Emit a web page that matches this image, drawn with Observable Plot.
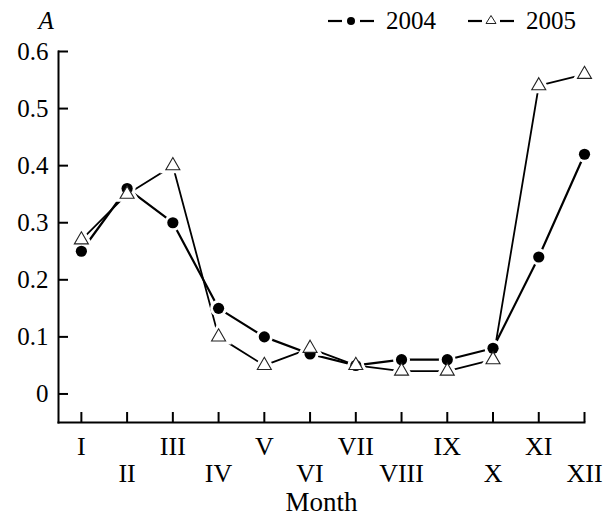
<!DOCTYPE html>
<html>
<head>
<meta charset="utf-8">
<script src="https://cdn.jsdelivr.net/npm/d3@7"></script>
<script src="https://cdn.jsdelivr.net/npm/@observablehq/plot@0.6"></script>
<style>
  body { margin: 0; background: #fff; }
  #wrap { position: relative; width: 610px; height: 516px; font-family: "Liberation Serif", serif; }
  #chart svg text { font-variant: normal; }
  #legend { position: absolute; top: 7px; left: 326px; display: flex; align-items: center; font-size: 25px; color: #000; }
  #legend .item { display: flex; align-items: center; }
  #legend svg { display: block; }
</style>
</head>
<body>
<div id="wrap">
  <div id="chart"></div>
  <div id="legend"></div>
</div>
<script>
// Monthly values of A, one array per year
const months = [1, 2, 3, 4, 5, 6, 7, 8, 9, 10, 11, 12];
const monthLabels = ["I", "II", "III", "IV", "V", "VI", "VII", "VIII", "IX", "X", "XI", "XII"];
const values2004 = [0.25, 0.36, 0.30, 0.15, 0.10, 0.07, 0.05, 0.06, 0.06, 0.08, 0.24, 0.42];
const values2005 = [0.27, 0.35, 0.40, 0.10, 0.05, 0.08, 0.05, 0.04, 0.04, 0.06, 0.54, 0.56];
const yTicks = [0, 0.1, 0.2, 0.3, 0.4, 0.5, 0.6];
const years = ["2004", "2005"];

const rows2004 = months.map((m, i) => ({month: m, value: values2004[i]}));
const rows2005 = months.map((m, i) => ({month: m, value: values2005[i]}));

const font = "Liberation Serif";
const oddMonths = months.filter(m => m % 2 === 1);
const evenMonths = months.filter(m => m % 2 === 0);
const label = m => monthLabels[m - 1];

const chart = Plot.plot({
  width: 610,
  height: 516,
  marginLeft: 58,
  marginRight: 26,
  marginTop: 51,
  marginBottom: 94,
  style: {fontFamily: font, color: "#000", background: "#fff"},
  x: {domain: [0.5, 12], axis: null},
  y: {domain: [-0.05, 0.6], axis: null},
  marks: [
    Plot.frame({anchor: "left", strokeWidth: 2}),
    Plot.frame({anchor: "bottom", strokeWidth: 2}),
    // inward tick marks
    Plot.axisY(yTicks, {tickSize: -10, strokeWidth: 2, tickFormat: () => "", label: null}),
    Plot.axisX(months, {tickSize: -10, strokeWidth: 2, tickFormat: () => "", label: null}),
    // tick labels
    Plot.axisY(yTicks, {tickSize: 0, tickPadding: 10, fontSize: 25, fontFamily: font, tickFormat: d => d === 0 ? "0" : d.toFixed(1), label: null}),
    Plot.axisX(oddMonths, {tickSize: 0, tickPadding: 14, fontSize: 26, fontFamily: font, tickFormat: label, label: null}),
    Plot.axisX(evenMonths, {tickSize: 0, tickPadding: 41, fontSize: 26, fontFamily: font, tickFormat: label, label: null}),
    Plot.text(["Month"], {frameAnchor: "bottom", dy: 69, lineAnchor: "top", fontSize: 27, fontFamily: font}),
    Plot.text(["A"], {frameAnchor: "top-left", dx: -20, dy: -23, lineAnchor: "bottom", fontSize: 25, fontStyle: "italic", fontFamily: font}),
    // series lines
    Plot.line(rows2004, {x: "month", y: "value", stroke: "#000", strokeWidth: 2.2}),
    Plot.line(rows2005, {x: "month", y: "value", stroke: "#000", strokeWidth: 1.8}),
    // white halos leave a small gap between lines and markers
    Plot.dot(rows2004, {x: "month", y: "value", r: 5.5, fill: "#fff", stroke: "#fff", strokeWidth: 6}),
    Plot.dot(rows2005, {x: "month", y: "value", r: 5.2, symbol: "triangle", fill: "#fff", stroke: "#fff", strokeWidth: 7}),
    Plot.dot(rows2004, {x: "month", y: "value", r: 5.6, fill: "#000", stroke: "none"}),
    Plot.dot(rows2005, {x: "month", y: "value", r: 5.2, symbol: "triangle", fill: "#fff", stroke: "#222", strokeWidth: 1.1})
  ]
});
document.getElementById("chart").appendChild(chart);

// Legend: dash – marker – dash, then the year
const legend = document.getElementById("legend");
years.forEach((year, i) => {
  const item = document.createElement("div");
  item.className = "item";
  item.style.marginLeft = i === 0 ? "0px" : "30px";
  const sym = i === 0
    ? `<circle cx="25" cy="12" r="4" fill="#000"/>`
    : `<path d="M25,6.5 L30,14.5 L20,14.5 Z" fill="#fff" stroke="#222" stroke-width="1"/>`;
  item.innerHTML =
    `<svg width="54" height="24"><line x1="2" x2="16" y1="12" y2="12" stroke="#000" stroke-width="2.2"/>${sym}<line x1="34" x2="48" y1="12" y2="12" stroke="#000" stroke-width="2.2"/></svg>` +
    `<span style="margin-left:6px">${year}</span>`;
  legend.appendChild(item);
});
</script>
</body>
</html>
